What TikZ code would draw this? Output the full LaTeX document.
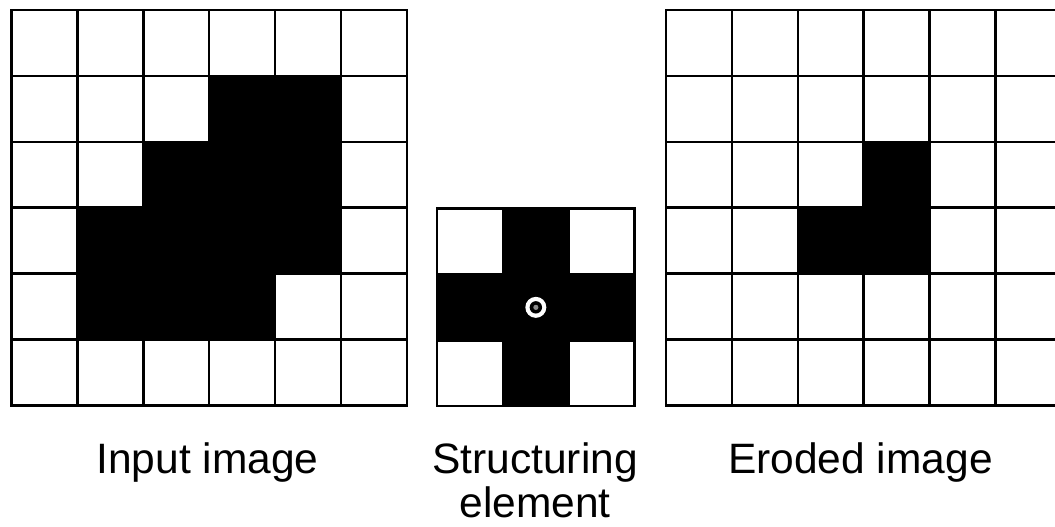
\documentclass[tikz,border=0pt]{standalone}
\usepackage{fontspec}
\setmainfont{Liberation Sans}
\begin{document}
\begin{tikzpicture}[x=1pt,y=-1pt,
  gridline/.style={line width=2.5pt, draw=black, line cap=rect},
  cellfill/.style={fill=black},
  lbl/.style={font=\fontsize{42.5}{44}\selectfont, inner sep=0pt, anchor=base, align=center}]
\useasboundingbox (0,0) rectangle (1055,527);
\clip (0,0) rectangle (1055,527);
\def\cs{65.9}
% ---------- Input image ----------
\begin{scope}[shift={(11.5,10)}]
  \foreach \r/\c in {1/3,1/4,2/2,2/3,2/4,3/1,3/2,3/3,3/4,4/1,4/2,4/3}
    \fill[cellfill] (\c*\cs,\r*\cs) rectangle ++(\cs,\cs);
  \foreach \i in {0,...,6} {
    \draw[gridline] (\i*\cs,0) -- (\i*\cs,6*\cs);
    \draw[gridline] (0,\i*\cs) -- (6*\cs,\i*\cs);
  }
\end{scope}
% ---------- Structuring element ----------
\begin{scope}[shift={(437,208.5)}]
  \foreach \r/\c in {0/1,1/0,1/1,1/2,2/1}
    \fill[cellfill] (\c*\cs,\r*\cs) rectangle ++(\cs,\cs);
  \foreach \i in {0,...,3} {
    \draw[gridline] (\i*\cs,0) -- (\i*\cs,3*\cs);
    \draw[gridline] (0,\i*\cs) -- (3*\cs,\i*\cs);
  }
  \fill[white] (1.5*\cs,1.5*\cs) circle (10.5);
  \fill[black] (1.5*\cs,1.5*\cs) circle (6.2);
  \fill[black!45] (1.5*\cs,1.5*\cs) circle (2.6);
\end{scope}
% ---------- Eroded image ----------
\begin{scope}[shift={(666,10)}]
  \foreach \r/\c in {2/3,3/2,3/3}
    \fill[cellfill] (\c*\cs,\r*\cs) rectangle ++(\cs,\cs);
  \foreach \i in {0,...,6} {
    \draw[gridline] (\i*\cs,0) -- (\i*\cs,6*\cs);
    \draw[gridline] (0,\i*\cs) -- (6*\cs,\i*\cs);
  }
\end{scope}
% ---------- Labels ----------
\node[lbl] (in) at (207.5,473.5) {Input image};
\node[lbl] (se) at (535,517.5) {Structuring\\element};
\node[lbl] (er) at (860.5,473.5) {Eroded image};
\end{tikzpicture}
\end{document}
